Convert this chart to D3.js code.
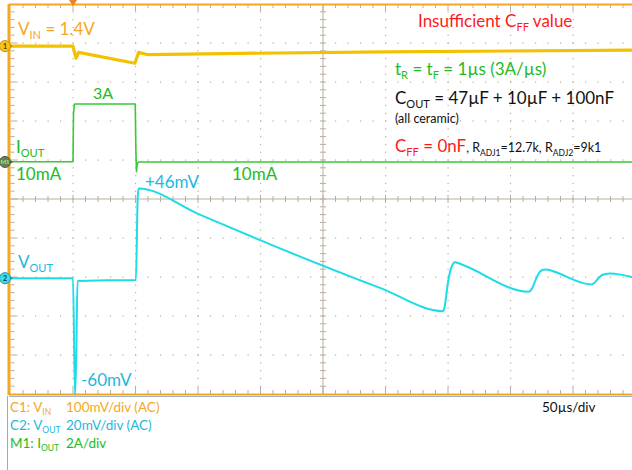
<!DOCTYPE html>
<html>
<head>
<meta charset="utf-8">
<script src="https://cdn.jsdelivr.net/npm/d3@7"></script>
<style>
  body { margin: 0; background: #fff; }
  svg { display: block; font-family: 'Lato', 'Open Sans', sans-serif; }
</style>
</head>
<body>
<div id="scope"></div>
<script>
// Scope capture
// time in us (0 = trigger), 50us/div
const vinT = [-50, 0, 1.5, 2.5, 4.5, 49.5, 52.5, 60, 120, 250, 450];
const vinMv = [0, 0, -20, -31, -16, -44, -16, -22, -19, -15, -10];

const ioutT = [-50, 0, 0.4, 1.2, 49.8, 50.3, 50.8, 51.4, 52.5, 450];
const ioutA = [0.01, 0.01, 2.5, 2.97, 2.97, 0.6, -0.5, -0.1, 0, 0];

const voutT = [-50, 0, 1.6, 2.6, 3.6, 50, 50.3, 51.8, 52.6, 100, 149.6, 245.6, 296,
  297.5, 300, 303, 305.6, 309, 364.8, 367, 370, 373, 376, 379, 383, 414.4,
  417, 421, 425, 430, 434, 447.5];
const voutMv = [0, 0, -60, -40, -1.5, -1, -1, 42, 46, 33, 19.5, -5, -16.9,
  -14, -2, 6, 8.2, 7.5, -7, -5.5, -1, 2.8, 4.3, 4.5, 3.8, -3.2,
  -2.5, 0.5, 2, 2.4, 2.2, 0.5];

// channel settings: units/div and reference offset (in divisions)
const vinScale = 100, vinOffset = 3.92;
const ioutScale = 2, ioutOffset = 0.95;
const voutScale = 20, voutOffset = -2.03;

const width = 632, height = 470;
const colVin = '#f2c200', colVinText = '#f4a823';
const colIout = '#33cc33', colIoutText = '#22bb22';
const colVout = '#1edbe8', colVoutText = '#1fb7dc';
const colRed = '#ff1a1a';
const gridCol = '#b8ae9f';

const svg = d3.select('#scope').append('svg')
  .attr('width', width).attr('height', height);

const x = d3.scaleLinear().domain([-50, 450]).range([10.5, 635.5]);
const y = d3.scaleLinear().domain([-5, 5]).range([394, 4]);

// Grid: dotted lines at each division, minor dots 5 per division
const grid = svg.append('g');
const majorX = d3.range(-50, 451, 50);
const majorY = d3.range(-5, 5.01, 1);
const minorX = d3.range(-50, 451, 10);
const minorY = d3.range(-5, 5.01, 0.2);

majorX.slice(1, -1).filter((t) => t !== 200).forEach((t) => {
  grid.selectAll(null).data(minorY.slice(1, -1)).enter().append('rect')
    .attr('x', x(t) - 0.5).attr('y', (d) => y(d) - 0.5)
    .attr('width', 1.2).attr('height', 1.2).attr('fill', gridCol);
});
majorY.slice(1, -1).filter((d) => d !== 0).forEach((v) => {
  grid.selectAll(null).data(minorX.slice(1, -1)).enter().append('rect')
    .attr('x', (d) => x(d) - 0.5).attr('y', y(v) - 0.5)
    .attr('width', 1.2).attr('height', 1.2).attr('fill', gridCol);
});

// center crosshair with ticks
grid.append('line').attr('x1', x(-50)).attr('x2', x(450))
  .attr('y1', y(0)).attr('y2', y(0)).attr('stroke', gridCol);
grid.append('line').attr('x1', x(200)).attr('x2', x(200))
  .attr('y1', y(-5)).attr('y2', y(5)).attr('stroke', gridCol);
grid.selectAll(null).data(minorX.slice(1, -1)).enter().append('line')
  .attr('x1', (d) => x(d)).attr('x2', (d) => x(d))
  .attr('y1', (d) => y(0) - (d % 50 === 0 ? 4 : 3))
  .attr('y2', (d) => y(0) + (d % 50 === 0 ? 4 : 3))
  .attr('stroke', gridCol);
grid.selectAll(null).data(minorY.slice(1, -1)).enter().append('line')
  .attr('x1', x(200) - 3).attr('x2', x(200) + 3)
  .attr('y1', (d) => y(d)).attr('y2', (d) => y(d))
  .attr('stroke', gridCol);

// border ticks
grid.selectAll(null).data(minorX.slice(1)).enter().append('line')
  .attr('x1', (d) => x(d)).attr('x2', (d) => x(d))
  .attr('y1', y(5)).attr('y2', (d) => y(5) + (d % 50 === 0 ? 7 : 4))
  .attr('stroke', gridCol);
grid.selectAll(null).data(minorX.slice(1)).enter().append('line')
  .attr('x1', (d) => x(d)).attr('x2', (d) => x(d))
  .attr('y1', y(-5)).attr('y2', (d) => y(-5) - (d % 50 === 0 ? 7 : 4))
  .attr('stroke', gridCol);
grid.selectAll(null).data(minorY.slice(1, -1)).enter().append('line')
  .attr('x1', x(-50)).attr('x2', (d) => x(-50) + (Math.abs(d % 1) < 0.01 ? 7 : 4))
  .attr('y1', (d) => y(d)).attr('y2', (d) => y(d))
  .attr('stroke', gridCol);

// frame
svg.append('line').attr('x1', 9).attr('x2', width).attr('y1', 4.5).attr('y2', 4.5)
  .attr('stroke', '#f5a623').attr('stroke-width', 2);
svg.append('line').attr('x1', 9).attr('x2', width).attr('y1', 394.5).attr('y2', 394.5)
  .attr('stroke', '#f5a623').attr('stroke-width', 2);
svg.append('line').attr('x1', 9).attr('x2', width).attr('y1', 396.5).attr('y2', 396.5)
  .attr('stroke', '#9fb4c8').attr('stroke-width', 1);
svg.append('line').attr('x1', 9).attr('x2', 9).attr('y1', 4).attr('y2', 395)
  .attr('stroke', '#f5a623').attr('stroke-width', 3);
svg.append('line').attr('x1', 7.5).attr('x2', 7.5).attr('y1', 396).attr('y2', height)
  .attr('stroke', '#a8a8a8').attr('stroke-width', 1);

// trigger marker
svg.append('path')
  .attr('d', `M${x(0) - 4},0 L${x(0) + 4},0 L${x(0)},6 Z`)
  .attr('fill', '#f08020');

// traces
const plot = svg.append('g');
function drawTrace(ts, vals, scale, offset, color, w, curve) {
  const line = d3.line()
    .x((d, i) => x(ts[i]))
    .y((d) => y(offset + d / scale))
    .curve(curve);
  plot.append('path')
    .attr('d', line(vals))
    .attr('fill', 'none')
    .attr('stroke', color)
    .attr('stroke-width', w)
    .attr('stroke-linejoin', 'round');
}
drawTrace(vinT, vinMv, vinScale, vinOffset, colVin, 3.2, d3.curveLinear);
drawTrace(ioutT, ioutA, ioutScale, ioutOffset, colIout, 1.6, d3.curveLinear);
drawTrace(voutT, voutMv, voutScale, voutOffset, colVout, 2, d3.curveMonotoneX);

// channel markers on the left edge
function marker(offset, label, fill, stroke, textCol, fs) {
  const cy = y(offset);
  svg.append('path')
    .attr('d', `M9,${cy - 2.5} L13,${cy} L9,${cy + 2.5} Z`).attr('fill', stroke);
  svg.append('circle').attr('cx', 5).attr('cy', cy).attr('r', 5.5)
    .attr('fill', fill).attr('stroke', stroke).attr('stroke-width', 1);
  svg.append('text').attr('x', 5).attr('y', cy + 2.5)
    .attr('text-anchor', 'middle').attr('font-size', fs)
    .attr('font-weight', 'bold').attr('fill', textCol).text(label);
}
marker(vinOffset, '1', '#f5c518', '#d09000', '#5a3a00', '7px');
marker(ioutOffset, 'M1', '#6b7d60', '#4a5a40', '#7dff5a', '6px');
marker(voutOffset, '2', '#45dbe8', '#1098a8', '#004050', '7px');

// text with subscripts: parts = [[text, isSub, colour, size]]
function richText(px, py, parts, size, color, subSize) {
  const t = svg.append('text').attr('x', px).attr('y', py)
    .attr('font-size', size + 'px').attr('fill', color);
  let shifted = false;
  parts.forEach(([txt, sub, col, sz]) => {
    const ts = t.append('tspan').text(txt);
    if (sub && !shifted) { ts.attr('dy', size * 0.25); shifted = true; }
    else if (!sub && shifted) { ts.attr('dy', -size * 0.25); shifted = false; }
    ts.attr('font-size', (sz || (sub ? (subSize || size * 0.65) : size)) + 'px');
    if (col) ts.attr('fill', col);
  });
  return t;
}

// trace labels
richText(18, 35, [['V'], ['IN', true], [' = 1.4V']], 17, colVinText);
richText(93, 99, [['3A']], 16, colIoutText);
richText(16, 153, [['I'], ['OUT', true]], 17, colIoutText);
richText(16, 180, [['10mA']], 17, colIoutText);
richText(232, 180, [['10mA']], 17, colIoutText);
richText(145, 188, [['+46mV']], 17, colVoutText);
richText(18, 268, [['V'], ['OUT', true]], 17, colVoutText);
richText(81, 386, [['-60mV']], 17, colVoutText);

// annotation block
richText(418, 27, [['Insufficient C'], ['FF', true], [' value']], 17, colRed);
richText(395, 75, [['t'], ['R', true], [' = t'], ['F', true], [' = 1\u00b5s (3A/\u00b5s)']], 17, colIoutText);
richText(395, 104, [['C'], ['OUT', true], [' = 47\u00b5F + 10\u00b5F + 100nF']], 17, '#111');
richText(395, 123, [['(all ceramic)']], 12.5, '#111');
richText(395, 152, [['C'], ['FF', true], [' = 0nF'],
  [', R', false, '#111', 12.5], ['ADJ1', true, '#111', 8.5], ['=12.7k, R', false, '#111', 12.5],
  ['ADJ2', true, '#111', 8.5], ['=9k1', false, '#111', 12.5]], 17, colRed);

// settings panel
richText(10, 412, [['C1: V'], ['IN', true]], 13.5, colVinText, 8.5);
richText(66, 412, [['100mV/div (AC)']], 13.5, colVinText);
richText(10, 430, [['C2: V'], ['OUT', true]], 13.5, colVoutText, 8.5);
richText(66, 430, [['20mV/div (AC)']], 13.5, colVoutText);
richText(10, 448, [['M1: I'], ['OUT', true]], 13.5, colIoutText, 8.5);
richText(66, 448, [['2A/div']], 13.5, colIoutText);
richText(542, 412, [['50\u00b5s/div']], 13.5, '#111');
</script>
</body>
</html>
